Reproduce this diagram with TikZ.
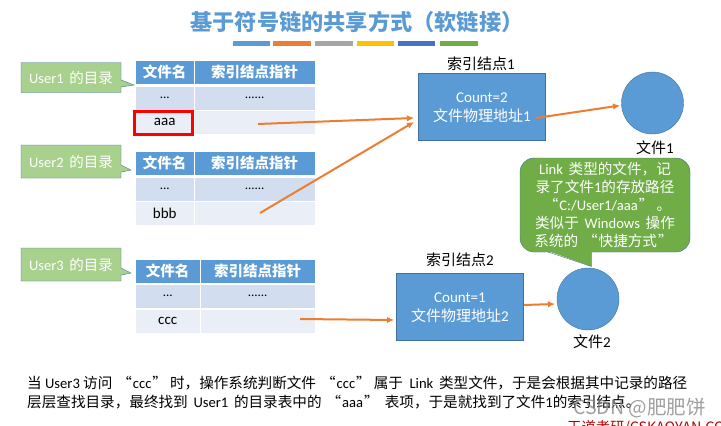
\documentclass[tikz,border=0pt]{standalone}
\usepackage{fontspec}
\setmainfont{Noto Sans CJK SC}
\newfontfamily\lat{Carlito}
\usetikzlibrary{shapes.callouts,calc,arrows.meta}
\definecolor{slideblue}{HTML}{5B9BD5}
\definecolor{slideorange}{HTML}{ED7D31}
\definecolor{slidegray}{HTML}{A5A5A5}
\definecolor{slideyellow}{HTML}{FFC000}
\definecolor{slidenavy}{HTML}{4472C4}
\definecolor{rowdark}{HTML}{D2DEEF}
\definecolor{rowlight}{HTML}{EAEFF7}
\definecolor{edgeblue}{HTML}{41719C}
\definecolor{tagfill}{HTML}{A9D18E}
\definecolor{notefill}{HTML}{70AD47}
% full width quotes
\newcommand{\openq}{\kern5pt“\kern1pt}
\newcommand{\closeq}{\kern1pt”\kern3pt}
\tikzset{
    headcell/.style={draw=white,fill=slideblue,text=white,font=\fontsize{14.5}{14.5}\selectfont\bfseries,inner sep=0pt,anchor=north west},
    bodycell/.style={draw=white,text=black,font=\fontsize{15}{15}\selectfont,inner sep=0pt,anchor=north west},
    usertag/.style={rectangle callout,draw=edgeblue,fill=tagfill,text=white,font=\fontsize{14.5}{15}\selectfont,minimum width=100pt,minimum height=30pt,inner sep=0pt},
    inodebox/.style={draw=edgeblue,fill=slideblue,text=white,align=center,minimum width=127pt,minimum height=67pt,inner sep=0pt,font=\fontsize{15}{19}\selectfont},
    filedot/.style={circle,draw=edgeblue,fill=slideblue,minimum size=62pt,inner sep=0pt},
    caption/.style={text=black,inner sep=0pt,font=\fontsize{15}{15}\selectfont},
    explain/.style={text=black,inner sep=0pt,anchor=west,font=\fontsize{14.6}{15}\selectfont},
    link/.style={slideorange,line width=2pt,-{Latex[length=7pt,width=6.5pt]}},
}
\begin{document}
\begin{tikzpicture}[x=1pt,y=-1pt]
    \clip (0,0) rectangle (721,426);
    \fill[white] (0,0) rectangle (721,426);
    \node[inner sep=0pt,text=slideblue,font=\fontsize{22.2}{22}\selectfont\bfseries] (title) at (357,22) {基于符号链的共享方式（软链接）};
    % colour bars under the title
    \foreach \bx/\bw/\bc in {233/37/slideblue,273/38/slideorange,315/38/slidegray,357/37/slideyellow,398/37/slidenavy,440/38/notefill}
        \fill[\bc] (\bx,41) rectangle ++(\bw,5);
    % the three directory tables
    \foreach \tid/\ty/\tx/\tname in {a/60/194/aaa,b/151/194/bbb,c/258.5/200/ccc}{
        \pgfmathsetmacro{\wa}{\tx-135}
        \pgfmathsetmacro{\wb}{315-\tx}
        \node[headcell,minimum width=\wa pt,minimum height=24pt] (\tid h1) at (135,\ty) {文件名};
        \node[headcell,minimum width=\wb pt,minimum height=24pt] (\tid h2) at (\tx,\ty) {索引结点指针};
        \node[bodycell,fill=rowdark,minimum width=\wa pt,minimum height=24pt] (\tid d1) at (135,\ty+25.5) {\fontsize{13}{13}\selectfont\lat ...};
        \node[bodycell,fill=rowdark,minimum width=\wb pt,minimum height=24pt] (\tid d2) at (\tx,\ty+25.5) {\fontsize{13}{13}\selectfont\lat ......};
        \node[bodycell,fill=rowlight,minimum width=\wa pt,minimum height=24pt] (\tid r1) at (135,\ty+50) {\lat\tname};
        \node[bodycell,fill=rowlight,minimum width=\wb pt,minimum height=24pt] (\tid r2) at (\tx,\ty+50) {};
    }
    \node[draw=red,line width=2.2pt,minimum width=58pt,minimum height=23pt,inner sep=0pt] (hit) at (163.5,123) {};
    % user tags
    \coordinate (tipa) at (134,85);
    \coordinate (tipb) at (131,170);
    \coordinate (tipc) at (131,273);
    \node[usertag,callout absolute pointer=(tipa)] (usera) at (71,77.5) {{\lat User1} \,的目录};
    \node[usertag,callout absolute pointer=(tipb),minimum height=33pt] (userb) at (71,161.5) {{\lat User2} \,的目录};
    \node[usertag,callout absolute pointer=(tipc),minimum height=33pt] (userc) at (71,264.5) {{\lat User3} \,的目录};
    % index nodes and files
    \node[inodebox] (inodea) at (482,107) {\rule{0pt}{12pt}\lat Count=2\\文件物理地址{\lat 1}};
    \node[inodebox] (inodeb) at (460,306.5) {\rule{0pt}{12pt}\lat Count=1\\文件物理地址{\lat 2}};
    \node[caption] (inodealab) at (481,64) {索引结点{\lat 1}};
    \node[caption] (inodeblab) at (460,260) {索引结点{\lat 2}};
    \node[filedot] (filea) at (652.5,103) {};
    \node[filedot] (fileb) at (588,299) {};
    \node[caption] (filealab) at (655,148) {文件{\lat 1}};
    \node[caption] (fileblab) at (592,342) {文件{\lat 2}};
    % note over file 2
    \node[draw=edgeblue,fill=notefill,rounded corners=14pt,text=white,align=center,minimum width=170pt,minimum height=94pt,inner sep=0pt,font=\fontsize{14.6}{18}\selectfont] (note) at (605,205)
        {{\lat Link} \,类型的文件，记\\录了文件{\lat 1}的存放路径\\\openq{\lat C:/User1/aaa}\closeq。\\类似于 \,{\lat Windows} \,操作\\系统的\openq 快捷方式\closeq};
    \coordinate (notetip) at (591.5,266.5);
    \coordinate (notel) at (548,252);
    \coordinate (noter) at (591.5,252);
    \fill[notefill] ($(notel)+(0,-1)$) -- (notetip) -- ($(noter)+(0,-1)$) -- cycle;
    \draw[edgeblue] (notel) -- (notetip) -- (noter);
    % arrows
    \coordinate (froma) at (258,124);
    \coordinate (fromb) at (260,213);
    \coordinate (fromc) at (300,319);
    \coordinate (froml) at (536,118);
    \coordinate (fromk) at (524,305);
    \coordinate (toa) at (414,118);
    \coordinate (tob) at (414,122);
    \coordinate (toc) at (394,320);
    \coordinate (tol) at (620,105.5);
    \coordinate (tok) at (555,304);
    \draw[link] (froma) -- (toa);
    \draw[link] (fromb) -- (tob);
    \draw[link] (fromc) -- (toc);
    \draw[link] (froml) -- (tol);
    \draw[link] (fromk) -- (tok);
    % text at the bottom
    \node[explain] (expla) at (27,383) {当 {\lat User3} 访问\openq{\lat ccc}\closeq 时，操作系统判断文件\openq{\lat ccc}\closeq 属于 \ {\lat Link} \,类型文件，于是会根据其中记录的路径};
    \node[explain] (explb) at (27,402) {层层查找目录，最终找到 \,{\lat User1} \,的目录表中的\openq{\lat aaa}\closeq\kern3pt 表项，于是就找到了文件{\lat 1}的索引结点。};
    \node[inner sep=0pt,anchor=west,text=gray,opacity=.75,font=\fontsize{19.5}{20}\selectfont] (mark) at (573,408) {CSDN @肥肥饼};
    \node[inner sep=0pt,anchor=west,text=red!70!black,font=\fontsize{14.3}{14}\selectfont] (brand) at (567,427.5) {王道考研/CSKAOYAN.COM};
\end{tikzpicture}
\end{document}
